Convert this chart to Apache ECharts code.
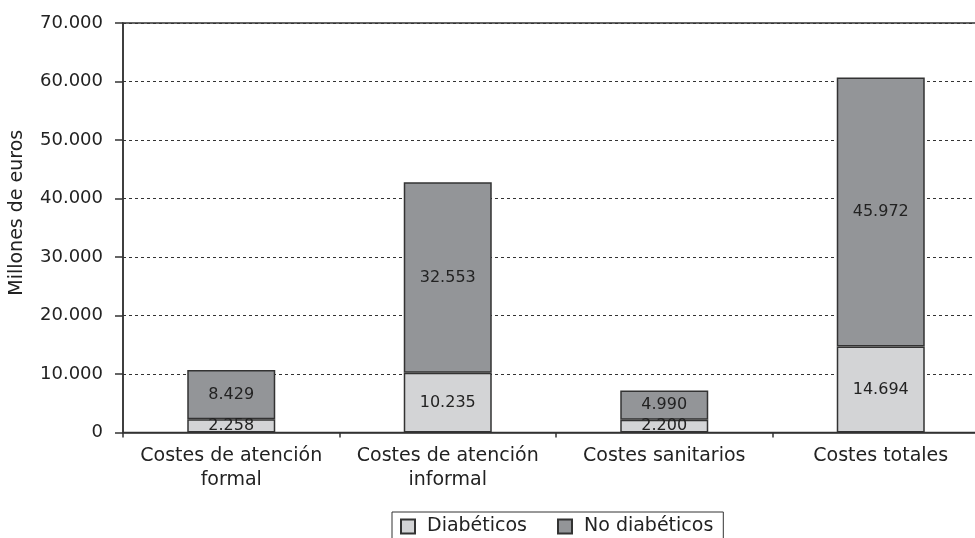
<!DOCTYPE html>
<html>
<head>
<meta charset="utf-8">
<script src="https://cdn.jsdelivr.net/npm/echarts@6/dist/echarts.min.js"></script>
<style>
  html, body { margin: 0; padding: 0; background: #fff; overflow: hidden; }
  /* the plot continues past the right edge of the window */
  #chart { width: 1000px; height: 538px; }
</style>
</head>
<body>
<div id="chart"></div>
<script>
// Costes (millones de euros) por tipo de coste, diabéticos frente a no diabéticos
const categories = [
  'Costes de atención\nformal',
  'Costes de atención\ninformal',
  'Costes sanitarios',
  'Costes totales'
];
const seriesNames = ['Diabéticos', 'No diabéticos'];
const diabeticos = [2258, 10235, 2200, 14694];
const noDiabeticos = [8429, 32553, 4990, 45972];
const yTicks = [0, 10000, 20000, 30000, 40000, 50000, 60000, 70000];

const FONT = 'DejaVu Sans';
const TEXT = '#222';
const LINE = '#333';

// Miles separados con punto (formato español)
function fmt(v) {
  return String(Math.round(v)).replace(/\B(?=(\d{3})+(?!\d))/g, '.');
}

const chart = echarts.init(document.getElementById('chart'), null, { renderer: 'canvas' });

const barLabel = {
  show: true,
  position: 'inside',
  color: TEXT,
  fontFamily: FONT,
  fontSize: 16,
  formatter: p => fmt(p.value)
};

chart.setOption({
  animation: false,
  backgroundColor: '#fff',
  grid: {
    left: 123,
    top: 23,
    width: 866,
    height: 409.5,
    show: true,
    borderColor: LINE,
    borderWidth: 1.5,
    backgroundColor: 'transparent'
  },
  legend: {
    data: seriesNames,
    left: 392,
    top: 512,
    orient: 'horizontal',
    padding: [5, 10, 5, 8],
    itemWidth: 14,
    itemHeight: 14,
    itemGap: 30,
    borderColor: LINE,
    borderWidth: 1,
    icon: 'rect',
    textStyle: { fontFamily: FONT, fontSize: 19, color: TEXT, padding: [0, 0, 0, 7] }
  },
  xAxis: {
    type: 'category',
    data: categories,
    axisLine: { lineStyle: { color: LINE, width: 1.5 } },
    axisTick: { show: true, length: 5, lineStyle: { color: LINE, width: 1.5 } },
    axisLabel: {
      color: TEXT,
      fontFamily: FONT,
      fontSize: 19,
      lineHeight: 24,
      margin: 12,
      interval: 0
    },
    splitLine: { show: false }
  },
  yAxis: {
    type: 'value',
    min: yTicks[0],
    max: yTicks[yTicks.length - 1],
    interval: yTicks[1] - yTicks[0],
    name: 'Millones de euros',
    nameLocation: 'middle',
    nameGap: 96,
    nameTextStyle: { fontFamily: FONT, fontSize: 19, color: TEXT, padding: [0, 0, 0, 30] },
    axisLine: { show: true, lineStyle: { color: LINE, width: 1.5 } },
    axisTick: { show: true, length: 8, lineStyle: { color: LINE, width: 1.5 } },
    axisLabel: {
      color: TEXT,
      fontFamily: FONT,
      fontSize: 18,
      margin: 20,
      formatter: v => fmt(v)
    },
    splitLine: { show: true, lineStyle: { color: LINE, width: 1, type: [3, 3] } }
  },
  series: [
    {
      name: seriesNames[0],
      type: 'bar',
      stack: 'total',
      data: diabeticos,
      barWidth: 88,
      itemStyle: { color: '#d3d4d6', borderColor: LINE, borderWidth: 1.5 },
      label: barLabel
    },
    {
      name: seriesNames[1],
      type: 'bar',
      stack: 'total',
      data: noDiabeticos,
      barWidth: 88,
      itemStyle: { color: '#939598', borderColor: LINE, borderWidth: 1.5 },
      label: barLabel
    }
  ]
});
</script>
</body>
</html>
